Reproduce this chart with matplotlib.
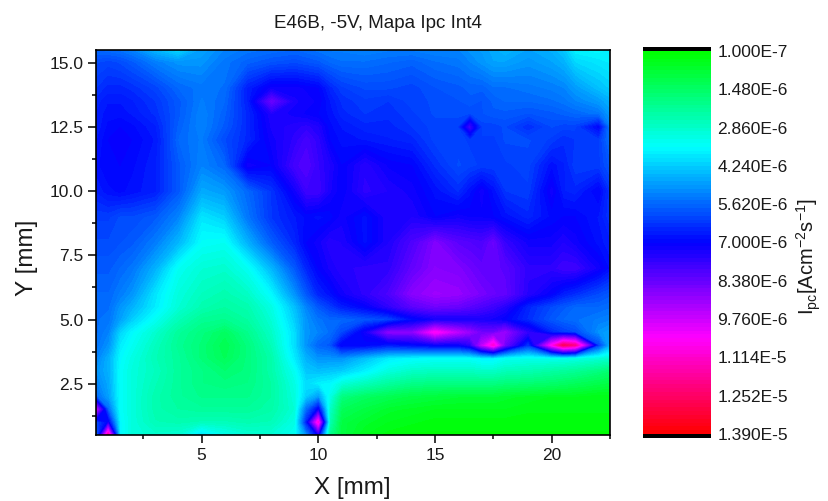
import numpy as np
import matplotlib
matplotlib.use("Agg")
from matplotlib import pyplot as plt
from matplotlib.colors import LinearSegmentedColormap
from matplotlib.ticker import MultipleLocator, FormatStrFormatter

plt.rcParams['font.family'] = ['Liberation Sans', 'DejaVu Sans']
plt.rcParams['mathtext.fontset'] = 'custom'
plt.rcParams['mathtext.rm'] = 'Liberation Sans'
plt.rcParams['mathtext.default'] = 'rm'

# measurement positions in mm
x_mm = [0.5, 1, 1.5, 2, 3, 4, 5, 6, 7, 8, 9, 9.5, 10, 10.5, 11, 12, 13, 14, 15, 16,
        16.5, 17, 17.5, 18, 19, 20, 20.5, 21, 22, 22.5]
y_mm = [0.5, 1, 1.5, 2, 2.5, 3, 3.5, 4, 4.5, 5, 5.5, 6, 7, 8, 9, 10, 11, 12, 12.5,
        13, 13.5, 14, 15, 15.5]

# Ipc in 1E-6 A cm-2 s-1, one row per y
ipc = [
    [5, 11.8, 3.6, 3.1, 2.9, 3, 3.9, 3.3, 3, 3, 3.4, 5, 7, 2, 1, .5, .3, .2, .2, .2, .2, .2, .2, .2, .2, .2, .2, .2, .2, .2],
    [6, 7, 3.6, 3.1, 2.6, 2.5, 2.6, 2.6, 2.5, 2.6, 3.2, 6.5, 10.8, 2.5, 1, .7, .5, .4, .3, .3, .3, .3, .3, .3, .3, .3, .3, .3, .3, .3],
    [9.5, 5.5, 3.5, 3.1, 2.5, 2.3, 2.2, 2.2, 2.2, 2.4, 3, 5.5, 7, 2.8, 1.3, 1, .7, .6, .5, .5, .5, .5, .5, .5, .4, .4, .4, .4, .4, .4],
    [5.5, 4.8, 3.5, 3.1, 2.5, 2.2, 2, 2, 2, 2.3, 3.1, 4.2, 4.8, 3.2, 1.8, 1.4, 1.2, 1, .9, .8, .8, .8, .8, .7, .6, .5, .5, .5, .4, .4],
    [5.2, 4.7, 3.5, 3.1, 2.6, 2.2, 1.9, 1.8, 1.9, 2.3, 3.2, 4, 3.7, 3.6, 3, 2.6, 2.2, 1.9, 1.8, 1.8, 1.8, 1.8, 1.8, 1.7, 1.6, 1.5, 1.4, 1.3, 1.1, 1],
    [5, 4.6, 3.5, 3.1, 2.7, 2.2, 1.9, 1.6, 1.8, 2.4, 3.4, 4.3, 4.4, 4.3, 4.2, 3.7, 3.1, 2.8, 2.7, 2.7, 2.7, 2.8, 2.8, 2.6, 2.5, 2.3, 2.2, 2.1, 1.8, 1.6],
    [5.2, 4.6, 3.6, 3.2, 2.6, 2.2, 1.7, 1.3, 1.8, 2.4, 3.8, 4.6, 5, 5, 5, 4.4, 3.8, 3.6, 3.5, 3.5, 3.5, 3.7, 3.7, 3.4, 3.3, 3.3, 3.3, 3.2, 3, 2.9],
    [5.4, 5, 3.8, 3.4, 2.7, 2.1, 1.7, 1.2, 1.8, 2.6, 4, 5, 5.6, 5.8, 7, 6.9, 6.6, 6.8, 7, 7, 7.5, 9.5, 11, 8.5, 6.2, 10.5, 12.6, 12, 6, 4.5],
    [5.5, 5.2, 4.1, 3.6, 2.9, 2.2, 1.8, 1.4, 2, 2.8, 4, 5, 5.2, 5.5, 6, 7.2, 8.8, 8.8, 10.5, 9.5, 9, 8.5, 8.5, 9, 7.6, 6.5, 6.2, 6, 5, 4.8],
    [5.5, 5.4, 4.8, 4.2, 3.4, 2.6, 2.1, 2, 2.3, 3, 4.2, 5, 5.4, 5.6, 5.6, 5.8, 6, 6.8, 7.2, 7.2, 7.3, 7.3, 7.2, 7, 6.4, 5.8, 5.6, 5.5, 5.3, 5.2],
    [5.6, 5.5, 5, 4.6, 3.8, 3, 2.5, 2.3, 2.5, 3.2, 4.4, 5.2, 5.8, 6.2, 6.6, 7, 7.6, 8.2, 8.5, 8.4, 8.2, 8, 7.8, 7.5, 6.5, 6, 5.8, 5.6, 5.6, 5.5],
    [5.6, 5.6, 5.3, 5, 3.9, 3.1, 2.7, 2.5, 2.8, 3.6, 5, 5.8, 6.5, 6.8, 7.2, 7.6, 8, 8.8, 9.1, 9, 8.8, 8.6, 8.4, 8.3, 7.5, 7, 6.6, 6.4, 6, 5.8],
    [5.8, 5.8, 5.6, 5.4, 4.6, 3.4, 3, 2.9, 3.4, 4.5, 5.8, 6.5, 7, 7.3, 7.5, 7.6, 7.6, 8.3, 8.8, 8.7, 8.5, 8.3, 8.3, 8.2, 7.6, 7.6, 7.8, 7.8, 7.2, 6.8],
    [6, 6, 5.9, 5.8, 5.3, 4.5, 3.5, 3.4, 4.6, 5.7, 6.5, 7, 7.2, 7.5, 7.4, 6.8, 7.4, 8, 8.7, 8.2, 8.1, 8, 8.4, 7.7, 7.2, 7.2, 7.4, 7.2, 6.8, 6.6],
    [6.2, 6.2, 6, 6, 5.8, 5.2, 3.9, 4.2, 5.4, 6.3, 6.7, 6.9, 6.8, 6.9, 7.2, 6.8, 7.4, 7.4, 7, 7.2, 7.1, 7.1, 7, 6.8, 6.5, 6.9, 7, 7, 6.7, 6.3],
    [6.6, 6.8, 6.9, 6.8, 6.6, 5.8, 4.7, 4.9, 5.6, 6.3, 7.2, 7.8, 7.8, 7.3, 7, 7.6, 7.4, 7.2, 6.8, 6.4, 6.8, 7.2, 6.8, 6.3, 6.2, 7.2, 6.6, 6.5, 7, 6.3],
    [6.8, 7, 7, 6.9, 6.6, 5.8, 5.2, 5.6, 7.2, 7, 7.9, 8.1, 7.7, 7.4, 7, 7.5, 7.1, 7, 6.4, 6, 6.1, 6.2, 6.2, 6.2, 6.1, 6.8, 6.6, 6.2, 6.2, 5.8],
    [6.7, 7, 7.1, 7, 6.7, 5.6, 5.3, 6, 6.5, 7.2, 7.6, 7.9, 7.6, 7, 6.8, 6.7, 6.6, 6.5, 6.1, 6.1, 6.2, 6.2, 6.2, 6, 6, 6.2, 6.4, 6.3, 6.2, 5.4],
    [6.6, 6.9, 7, 6.9, 6.6, 5.7, 5.2, 5.8, 6.5, 7.3, 7.5, 7.6, 7.4, 6.9, 6.7, 6.5, 6.5, 6.3, 6.1, 6.1, 7.7, 6.1, 6.1, 6, 6.4, 6, 6.1, 6.1, 6.9, 5.2],
    [6.6, 6.8, 6.8, 6.7, 6.4, 5.8, 5.2, 5.7, 6.5, 7.4, 7.2, 7.1, 7, 6.8, 6.5, 6.3, 6.4, 6.2, 6, 6, 6, 5.9, 5.8, 5.8, 5.9, 5.8, 5.7, 5.6, 5.4, 4.9],
    [6.5, 6.7, 6.7, 6.6, 6.3, 5.8, 5.3, 5.6, 6.6, 8.4, 7.3, 7.2, 7.1, 6.7, 6.4, 6.2, 6.3, 6.1, 6, 5.9, 5.8, 5.9, 5.7, 5.6, 5.6, 5.5, 5.4, 5.2, 4.9, 4.6],
    [6.3, 6.5, 6.5, 6.4, 6.1, 5.6, 5.4, 5.5, 6.6, 7.2, 7.2, 7.1, 7, 6.5, 6.2, 6, 6, 6.1, 5.9, 5.8, 5.7, 5.7, 5.5, 5.5, 5.4, 5.3, 5.2, 4.9, 4.4, 4.2],
    [6, 6.1, 6, 5.8, 5.3, 5, 5, 5.4, 5.7, 5.9, 6, 5.9, 5.8, 5.6, 5.5, 5.5, 5.6, 5.7, 5.5, 5.4, 5.2, 5, 4.8, 4.8, 5, 4.8, 4.6, 4.1, 3.9, 3.8],
    [5.6, 5.5, 5.4, 5.2, 4.5, 4, 4.8, 5.2, 5.4, 5.5, 5.6, 5.5, 5.4, 5.3, 5.3, 5.2, 5.3, 5.3, 5.2, 5.2, 5, 4.9, 4.7, 4.5, 4.8, 4.6, 4.3, 3.7, 3.6, 3.7],
]

cbar_ticks = [0.1, 1.48, 2.86, 4.24, 5.62, 7.0, 8.38, 9.76, 11.14, 12.52, 13.9]
cbar_labels = ['1.000E-7', '1.480E-6', '2.860E-6', '4.240E-6', '5.620E-6', '7.000E-6',
               '8.380E-6', '9.760E-6', '1.114E-5', '1.252E-5', '1.390E-5']

W, H = 829, 501
vmin, vmax = cbar_ticks[0], cbar_ticks[-1]
levels = np.linspace(vmin, vmax, 101)
cmap = LinearSegmentedColormap.from_list('gcbmr', ['#00ff00', '#00ffff', '#0000ff', '#ff00ff', '#ff0000'])


def px_axes(fig, left, top, right, bottom):
    return fig.add_axes([left / W, 1 - bottom / H, (right - left) / W, (bottom - top) / H])


fig = plt.figure(figsize=(W / 100, H / 100), dpi=100)

ax = px_axes(fig, 96.5, 50, 610, 435)
ax.contourf(x_mm, y_mm, np.array(ipc), levels=levels, cmap=cmap, vmin=vmin, vmax=vmax, extend='both')
ax.set_xlim(0.5, 22.5)
ax.set_ylim(0.5, 15.5)
ax.xaxis.set_major_locator(MultipleLocator(5))
ax.xaxis.set_minor_locator(MultipleLocator(2.5))
ax.yaxis.set_major_locator(MultipleLocator(2.5))
ax.yaxis.set_minor_locator(MultipleLocator(1.25))
ax.yaxis.set_major_formatter(FormatStrFormatter('%.1f'))
ax.tick_params(which='major', length=5.5, width=1.1, labelsize=12.5, pad=4, labelcolor='#1a1a1a')
ax.tick_params(which='minor', length=3, width=1.1)
for s in ax.spines.values():
    s.set_linewidth(1.2)

cax = px_axes(fig, 643, 47, 711, 438)
cax.pcolormesh([0, 1], levels, ((levels[:-1] + levels[1:]) / 2).reshape(-1, 1),
               cmap=cmap, vmin=vmin, vmax=vmax, shading='flat')
per_px = (vmax - vmin) / (434 - 51)
cax.set_ylim(vmax + 4 * per_px, vmin - 4 * per_px)
cax.set_xlim(0, 1)
cax.axhspan(vmin - 4 * per_px, vmin, color='black', lw=0)
cax.axhspan(vmax, vmax + 4 * per_px, color='black', lw=0)
cax.set_xticks([])
cax.yaxis.tick_right()
cax.set_yticks(cbar_ticks)
cax.set_yticklabels(cbar_labels)
cax.tick_params(axis='y', length=0, pad=4.5, labelsize=12.5, labelcolor='#1a1a1a')
for s in cax.spines.values():
    s.set_visible(False)

fig.text(378 / W, 1 - 24 / H, 'E46B, -5V, Mapa Ipc Int4', ha='center', va='center', fontsize=13.5, color='#1a1a1a')
fig.text(352 / W, 1 - 488 / H, 'X [mm]', ha='center', va='center', fontsize=17.5, color='#1a1a1a')
fig.text(27 / W, 1 - 258 / H, 'Y [mm]', ha='center', va='center', rotation=90, fontsize=17.5, color='#1a1a1a')
fig.text(809 / W, 1 - 257 / H, r'$I_{pc}[Acm^{-2}s^{-1}]$', ha='center', va='center', rotation=90,
         fontsize=14.5, color='#1a1a1a')

plt.savefig('out.png', dpi=100)
plt.clf()
